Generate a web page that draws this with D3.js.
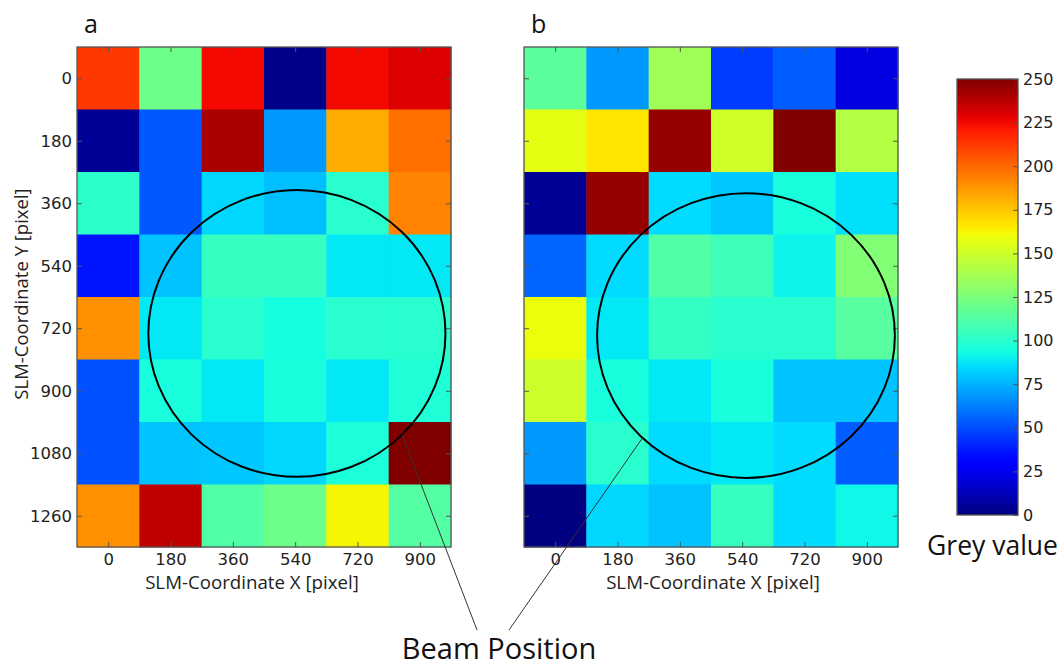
<!DOCTYPE html>
<html>
<head>
<meta charset="utf-8">
<script src="https://cdn.jsdelivr.net/npm/d3@7"></script>
<style>
  body { margin: 0; background: #fff; }
  svg { display: block; }
</style>
</head>
<body>
<div id="chart"></div>
<script>
const width = 1062;
const height = 666;

// SLM coordinates of the block centres
const xCoords = [0, 180, 360, 540, 720, 900];
const yCoords = [0, 180, 360, 540, 720, 900, 1080, 1260];
const cbarTicks = [0, 25, 50, 75, 100, 125, 150, 175, 200, 225, 250];

// grey values, one row per y coordinate
const greyA = [
  [213, 121, 225,   2, 225, 230],
  [  5,  53, 241,  69, 182, 198],
  [101,  53,  84,  78, 100, 193],
  [ 36,  79, 104, 104,  88,  88],
  [189,  88, 100,  94, 100, 100],
  [ 51,  95,  88,  95,  88,  97],
  [ 51,  79,  80,  84,  96, 250],
  [189, 236, 112, 121, 162, 113]
];
const greyB = [
  [115,  69, 136,  46,  54,  21],
  [157, 167, 245, 150, 250, 142],
  [  5, 245,  85,  80,  95,  86],
  [ 56,  85, 112, 106,  91, 127],
  [159,  88, 103, 100, 100, 114],
  [149,  95,  88,  95,  79,  79],
  [ 69, 100,  85,  88,  85,  54],
  [  0,  84,  79, 104,  85,  92]
];

// beam circle in SLM pixel units
const beamA = { cx: 545, cy: 735, rx: 429, ry: 413, lx: 848, ly: 1025 };
const beamB = { cx: 551, cy: 741, rx: 430, ry: 410, lx: 252, ly: 1036 };

// matplotlib "jet"
const jetSeg = {
  r: [[0, 0], [0.35, 0], [0.66, 1], [0.89, 1], [1, 0.5]],
  g: [[0, 0], [0.125, 0], [0.375, 1], [0.64, 1], [0.91, 0], [1, 0]],
  b: [[0, 0.5], [0.11, 1], [0.34, 1], [0.65, 0], [1, 0]]
};
const segVal = (seg, t) => {
  for (let i = 1; i < seg.length; i++) {
    if (t <= seg[i][0]) {
      const [x0, y0] = seg[i - 1], [x1, y1] = seg[i];
      return y0 + (y1 - y0) * (t - x0) / (x1 - x0);
    }
  }
  return seg[seg.length - 1][1];
};
const jet = t => {
  t = Math.max(0, Math.min(1, t));
  return d3.rgb(segVal(jetSeg.r, t) * 255, segVal(jetSeg.g, t) * 255, segVal(jetSeg.b, t) * 255).formatHex();
};
const colorScale = d3.scaleSequential(jet).domain([0, 250]);

const svg = d3.select("#chart")
  .append("svg")
  .attr("width", width)
  .attr("height", height);

svg.append("rect").attr("width", width).attr("height", height).attr("fill", "#fff");

const tickFont = "'DejaVu Sans', sans-serif";
const labelFont = "'Open Sans', sans-serif";
const frameColor = "#555";

const drawPanel = (grid, beam, left, letter, labelShift) => {
  const w = 374, h = 500, top = 47;
  const xScale = d3.scaleLinear().domain([-90, 990]).range([0, w]);
  const yScale = d3.scaleLinear().domain([-90, 1350]).range([0, h]);
  const cw = xScale(180) - xScale(0), ch = yScale(180) - yScale(0);

  const g = svg.append("g").attr("transform", `translate(${left}, ${top})`);

  const cells = [];
  grid.forEach((row, i) => row.forEach((v, j) => cells.push({ x: xCoords[j], y: yCoords[i], v })));

  g.selectAll("rect.cell")
    .data(cells)
    .join("rect")
    .attr("class", "cell")
    .attr("x", d => xScale(d.x - 90))
    .attr("y", d => yScale(d.y - 90))
    .attr("width", cw + 0.5)
    .attr("height", ch + 0.5)
    .attr("fill", d => colorScale(d.v));

  // ticks on all four sides, pointing inward
  const tickLen = 5;
  const fmt = d3.format("d");
  const ax = [
    { axis: d3.axisBottom(xScale).tickValues(xCoords), tr: `translate(0, ${h})`, labels: true, pad: 6 },
    { axis: d3.axisTop(xScale).tickValues(xCoords), tr: "translate(0, 0)", labels: false, pad: 6 },
    { axis: d3.axisLeft(yScale).tickValues(yCoords), tr: "translate(0, 0)", labels: letter === "a", pad: 5 },
    { axis: d3.axisRight(yScale).tickValues(yCoords), tr: `translate(${w}, 0)`, labels: false, pad: 5 }
  ];
  ax.forEach(a => {
    const ag = g.append("g")
      .attr("transform", a.tr)
      .call(a.axis.tickSize(-tickLen).tickSizeOuter(0).tickPadding(a.pad).tickFormat(fmt));
    ag.select(".domain").remove();
    ag.selectAll(".tick line").attr("stroke", frameColor).attr("stroke-width", 1);
    ag.selectAll(".tick text")
      .attr("font-family", tickFont)
      .attr("font-size", 16.5)
      .attr("fill", "#222")
      .style("display", a.labels ? null : "none");
  });

  g.append("rect")
    .attr("width", w).attr("height", h)
    .attr("fill", "none")
    .attr("stroke", frameColor)
    .attr("stroke-width", 1.3);

  g.append("ellipse")
    .attr("cx", xScale(beam.cx))
    .attr("cy", yScale(beam.cy))
    .attr("rx", xScale(beam.rx) - xScale(0))
    .attr("ry", yScale(beam.ry) - yScale(0))
    .attr("fill", "none")
    .attr("stroke", "#000")
    .attr("stroke-width", 2);

  svg.append("text")
    .attr("x", left + 7)
    .attr("y", 33)
    .attr("font-family", labelFont)
    .attr("font-size", 25)
    .attr("fill", "#111")
    .text(letter);

  svg.append("text")
    .attr("x", left + w / 2 + labelShift)
    .attr("y", top + h + 42)
    .attr("text-anchor", "middle")
    .attr("font-family", labelFont)
    .attr("font-size", 18.7)
    .attr("fill", "#222")
    .text("SLM-Coordinate X [pixel]");

  return { x: left + xScale(beam.lx), y: top + yScale(beam.ly) };
};

const startA = drawPanel(greyA, beamA, 77, "a", -12);
const startB = drawPanel(greyB, beamB, 524, "b", 2);

svg.append("text")
  .attr("transform", "translate(28, 294) rotate(-90)")
  .attr("text-anchor", "middle")
  .attr("font-family", labelFont)
  .attr("font-size", 18.5)
  .attr("fill", "#222")
  .text("SLM-Coordinate Y [pixel]");

// colour bar
const cbar = { x: 957, y: 79, w: 61, h: 436 };
const cbScale = d3.scaleLinear().domain([0, 250]).range([cbar.y + cbar.h, cbar.y]);

const grad = svg.append("defs").append("linearGradient")
  .attr("id", "jetGrad")
  .attr("x1", 0).attr("y1", 1).attr("x2", 0).attr("y2", 0);
grad.selectAll("stop")
  .data(d3.range(0, 1.0001, 0.02))
  .join("stop")
  .attr("offset", d => d)
  .attr("stop-color", d => jet(d));

svg.append("rect")
  .attr("x", cbar.x).attr("y", cbar.y)
  .attr("width", cbar.w).attr("height", cbar.h)
  .attr("fill", "url(#jetGrad)")
  .attr("stroke", frameColor)
  .attr("stroke-width", 1.3);

const cbAxis = svg.append("g")
  .attr("transform", `translate(${cbar.x + cbar.w}, 0)`)
  .call(d3.axisRight(cbScale).tickValues(cbarTicks).tickSize(-5).tickSizeOuter(0).tickPadding(5));
cbAxis.select(".domain").remove();
cbAxis.selectAll(".tick line").attr("stroke", frameColor);
cbAxis.selectAll(".tick text")
  .attr("font-family", tickFont)
  .attr("font-size", 16)
  .attr("fill", "#222");

svg.append("text")
  .attr("x", cbar.x + cbar.w / 2 + 5)
  .attr("y", 555)
  .attr("text-anchor", "middle")
  .attr("font-family", labelFont)
  .attr("font-size", 26.5)
  .attr("fill", "#111")
  .text("Grey value");

// beam position annotation
const beamText = { x: 499, y: 659 };
svg.append("text")
  .attr("x", beamText.x)
  .attr("y", beamText.y)
  .attr("text-anchor", "middle")
  .attr("font-family", labelFont)
  .attr("font-size", 29)
  .attr("fill", "#111")
  .text("Beam Position");

[[startA, beamText.x - 22], [startB, beamText.x + 10]].forEach(([s, ex]) => {
  svg.append("line")
    .attr("x1", s.x).attr("y1", s.y)
    .attr("x2", ex).attr("y2", beamText.y - 29)
    .attr("stroke", "#333")
    .attr("stroke-width", 1);
});
</script>
</body>
</html>
